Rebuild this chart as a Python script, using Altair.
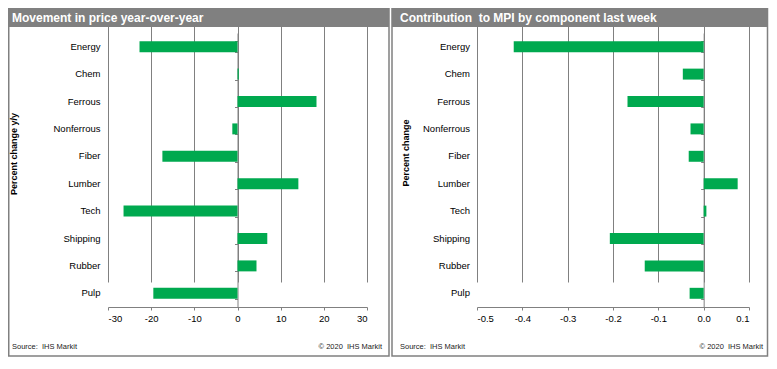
import altair as alt
import pandas as pd

categories = ["Energy", "Chem", "Ferrous", "Nonferrous", "Fiber", "Lumber",
              "Tech", "Shipping", "Rubber", "Pulp"]
yoy_change = [-22.7, 0.3, 18.3, -1.2, -17.4, 14.1, -26.4, 6.9, 4.4, -19.5]
mpi_contribution = [-0.419, -0.046, -0.168, -0.029, -0.033, 0.075, 0.006,
                    -0.207, -0.130, -0.031]
left_ticks = [-30, -20, -10, 0, 10, 20, 30]
right_ticks = [-0.5, -0.4, -0.3, -0.2, -0.1, 0.0, 0.1]
left_title = "Movement in price year-over-year"
right_title = "Contribution\u00a0 to MPI by component last week"
left_ytitle = "Percent change y/y"
right_ytitle = "Percent change"
source_text = "Source:\u00a0 IHS Markit"
copyright_text = "\u00a9 2020\u00a0 IHS Markit"

FONT = "Liberation Sans"
GREEN = "#00A94F"
GREY = "#808080"
one = alt.Data(values=[{}])

left_df = pd.DataFrame({"component": categories, "value": yoy_change})
right_df = pd.DataFrame({"component": categories, "value": mpi_contribution})


def panel(df, domain, xrange, ticks, fmt, label_pad):
    yscale = alt.Scale(domain=categories, range=[25, 299],
                       paddingInner=0.6, paddingOuter=0.3)
    xscale = alt.Scale(domain=domain, range=xrange, nice=False)
    zero_px = xrange[0] + (0 - domain[0]) / (domain[1] - domain[0]) * (xrange[1] - xrange[0])
    bars = alt.Chart(df).mark_bar(color=GREEN).encode(
        x=alt.X("value:Q", scale=xscale, title=None,
                axis=alt.Axis(orient="bottom", values=ticks, format=fmt,
                              labelExpr="replace(datum.label, '\u2212', '-')",
                              grid=True, gridColor=GREY, gridWidth=1,
                              domainColor=GREY, tickColor=GREY, tickSize=3,
                              labelFont=FONT, labelFontSize=9.5,
                              labelColor="#000", labelPadding=3)),
        y=alt.Y("component:N", sort=categories, scale=yscale, title=None,
                axis=alt.Axis(orient="left", offset=-xrange[0], domain=False,
                              ticks=False, tickSize=0, grid=False,
                              labelFont=FONT, labelFontSize=9.5,
                              labelColor="#000", labelPadding=label_pad)),
    )
    zero_axis = alt.Chart(df).mark_bar(opacity=0).encode(
        x=alt.X("value:Q", scale=xscale, axis=None),
        y=alt.Y("component:N", sort=categories, scale=yscale, title=None,
                axis=alt.Axis(orient="left", offset=-zero_px, labels=False,
                              domain=True, domainColor=GREY, ticks=True,
                              tickBand="extent", tickSize=3, tickColor=GREY,
                              grid=False)),
    )
    return [bars, zero_axis]


def rect(x, x2, y, y2, **kw):
    return alt.Chart(one).mark_rect(**kw).encode(
        x=alt.value(x), x2=alt.value(x2), y=alt.value(y), y2=alt.value(y2))


def text(s, x, y, **kw):
    return alt.Chart(one).mark_text(text=s, font=FONT, **kw).encode(
        x=alt.value(x), y=alt.value(y))


decor = [
    rect(0.75, 381, 0, 348, fill=None, stroke=GREY, strokeWidth=1.5),
    rect(384, 759.5, 0, 348, fill=None, stroke=GREY, strokeWidth=1.5),
    rect(0, 381, 0, 19, fill=GREY),
    rect(384, 759.5, 0, 19, fill=GREY),
    text(left_title, 4, 9.5, align="left", baseline="middle",
         fontSize=12, fontWeight="bold", color="white"),
    text(right_title, 392, 9.5, align="left", baseline="middle",
         fontSize=12, fontWeight="bold", color="white"),
    text(left_ytitle, 6, 146, angle=270, align="center", baseline="middle",
         fontSize=9, fontWeight="bold", color="#000"),
    text(right_ytitle, 398, 145, angle=270, align="center", baseline="middle",
         fontSize=9, fontWeight="bold", color="#000"),
    text(source_text, 4, 339, align="left", baseline="middle",
         fontSize=7.5, color="#222"),
    text(copyright_text, 374, 339, align="right", baseline="middle",
         fontSize=7.5, color="#222"),
    text(source_text, 392, 339, align="left", baseline="middle",
         fontSize=7.5, color="#222"),
    text(copyright_text, 755, 339, align="right", baseline="middle",
         fontSize=7.5, color="#222"),
]

layers = decor + panel(left_df, [-30, 30], [100, 359], left_ticks, "d", 8) \
    + panel(right_df, [-0.5, 0.1], [469, 741], right_ticks, ".1f", 7.5)

chart = alt.layer(*layers).resolve_scale(
    x="independent", y="independent"
).properties(
    width=761, height=299,
    autosize=alt.AutoSizeParams(type="none"),
    padding={"left": 0, "top": 0, "right": 0, "bottom": 50},
).configure_view(stroke=None)

chart.save("out.html", embed_options={"renderer": "svg", "actions": False})
